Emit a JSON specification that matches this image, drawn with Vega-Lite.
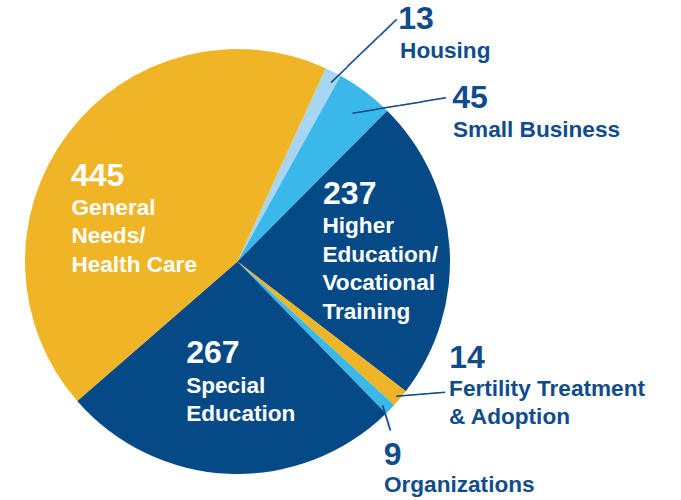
{
  "$schema": "https://vega.github.io/schema/vega-lite/v6.json",
  "width": 425,
  "height": 425,
  "autosize": {"type": "none"},
  "padding": {"left": 25, "top": 49, "right": 231, "bottom": 26},
  "background": "white",
  "config": {"view": {"stroke": null}, "text": {"font": "Liberation Sans", "fontWeight": "bold", "lineBreak": "\n"}},
  "data": {"values": [
    {"rank": 1, "name": "Housing", "value": 13, "label": "Housing"},
    {"rank": 2, "name": "Small Business", "value": 45, "label": "Small Business"},
    {"rank": 3, "name": "Higher Education/Vocational Training", "value": 237, "label": "Higher\nEducation/\nVocational\nTraining"},
    {"rank": 4, "name": "Fertility Treatment & Adoption", "value": 14, "label": "Fertility Treatment\n& Adoption"},
    {"rank": 5, "name": "Organizations", "value": 9, "label": "Organizations"},
    {"rank": 6, "name": "Special Education", "value": 267, "label": "Special\nEducation"},
    {"rank": 7, "name": "General Needs/Health Care", "value": 445, "label": "General\nNeeds/\nHealth Care"}
  ]},
  "encoding": {
    "theta": {"field": "value", "type": "quantitative", "stack": true, "scale": {"range": [0.4276, 6.7108]}},
    "order": {"field": "rank", "type": "quantitative"}
  },
  "layer": [
    {"mark": {"type": "arc"},
     "encoding": {"color": {"field": "name", "type": "nominal", "legend": null,
       "scale": {"domain": ["Housing", "Small Business", "Higher Education/Vocational Training", "Fertility Treatment & Adoption", "Organizations", "Special Education", "General Needs/Health Care"],
                 "range": ["#A8D5F1", "#39B8E9", "#054A87", "#F0B526", "#39B8E9", "#054A87", "#F0B526"]}}}},

    {"mark": {"type": "text", "radius": 240, "align": "center", "baseline": "middle", "fontWeight": "normal", "fontSize": 22.8, "angle": 316, "dx": 10.5, "dy": 14.0, "color": "#0F4C8C"},
     "encoding": {"detail": {"field": "name"}, "text": {"condition": {"test": "datum.name !== 'Housing'", "value": ""}, "value": "————"}}},
    {"mark": {"type": "text", "radius": 240, "align": "center", "baseline": "middle", "fontWeight": "normal", "fontSize": 23.7, "angle": 350.5, "dx": 11.4, "dy": 37.3, "color": "#0F4C8C"},
     "encoding": {"detail": {"field": "name"}, "text": {"condition": {"test": "datum.name !== 'Small Business'", "value": ""}, "value": "————"}}},
    {"mark": {"type": "text", "radius": 240, "align": "center", "baseline": "middle", "fontWeight": "normal", "fontSize": 24.6, "angle": 355.3, "dx": 1.1, "dy": -22.3, "color": "#0F4C8C"},
     "encoding": {"detail": {"field": "name"}, "text": {"condition": {"test": "datum.name !== 'Fertility Treatment & Adoption'", "value": ""}, "value": "——"}}},
    {"mark": {"type": "text", "radius": 240, "align": "center", "baseline": "middle", "fontWeight": "normal", "fontSize": 26.2, "angle": 72.9, "dx": -16.9, "dy": 18.0, "color": "#0F4C8C"},
     "encoding": {"detail": {"field": "name"}, "text": {"condition": {"test": "datum.name !== 'Organizations'", "value": ""}, "value": "—"}}},

    {"mark": {"type": "text", "radius": 240, "align": "left", "baseline": "alphabetic", "fontSize": 32, "color": "#0F4C8C", "dx": 52.6, "dy": -17.9},
     "encoding": {"detail": {"field": "name"}, "text": {"condition": {"test": "datum.name !== 'Housing'", "value": ""}, "field": "value", "type": "quantitative"}}},
    {"mark": {"type": "text", "radius": 240, "align": "left", "baseline": "alphabetic", "fontSize": 22.6, "lineHeight": 28.5, "color": "#0F4C8C", "dx": 54.5, "dy": 11.1},
     "encoding": {"detail": {"field": "name"}, "text": {"condition": {"test": "datum.name !== 'Housing'", "value": ""}, "field": "label", "type": "nominal"}}},

    {"mark": {"type": "text", "radius": 240, "align": "left", "baseline": "alphabetic", "fontSize": 32, "color": "#0F4C8C", "dx": 70.7, "dy": 38.7},
     "encoding": {"detail": {"field": "name"}, "text": {"condition": {"test": "datum.name !== 'Small Business'", "value": ""}, "field": "value", "type": "quantitative"}}},
    {"mark": {"type": "text", "radius": 240, "align": "left", "baseline": "alphabetic", "fontSize": 22.6, "lineHeight": 28.5, "color": "#0F4C8C", "dx": 71.4, "dy": 67.1},
     "encoding": {"detail": {"field": "name"}, "text": {"condition": {"test": "datum.name !== 'Small Business'", "value": ""}, "field": "label", "type": "nominal"}}},

    {"mark": {"type": "text", "radius": 120, "align": "left", "baseline": "alphabetic", "fontSize": 32, "color": "white", "dx": -34.2, "dy": -49.5},
     "encoding": {"detail": {"field": "name"}, "text": {"condition": {"test": "datum.name !== 'Higher Education/Vocational Training'", "value": ""}, "field": "value", "type": "quantitative"}}},
    {"mark": {"type": "text", "radius": 120, "align": "left", "baseline": "alphabetic", "fontSize": 22.6, "lineHeight": 28.5, "color": "white", "dx": -34.8, "dy": -20.2},
     "encoding": {"detail": {"field": "name"}, "text": {"condition": {"test": "datum.name !== 'Higher Education/Vocational Training'", "value": ""}, "field": "label", "type": "nominal"}}},

    {"mark": {"type": "text", "radius": 240, "align": "left", "baseline": "alphabetic", "fontSize": 32, "color": "#0F4C8C", "dx": 28, "dy": -47.7},
     "encoding": {"detail": {"field": "name"}, "text": {"condition": {"test": "datum.name !== 'Fertility Treatment & Adoption'", "value": ""}, "field": "value", "type": "quantitative"}}},
    {"mark": {"type": "text", "radius": 240, "align": "left", "baseline": "alphabetic", "fontSize": 22.6, "lineHeight": 28.5, "color": "#0F4C8C", "dx": 27.9, "dy": -20.3},
     "encoding": {"detail": {"field": "name"}, "text": {"condition": {"test": "datum.name !== 'Fertility Treatment & Adoption'", "value": ""}, "field": "label", "type": "nominal"}}},

    {"mark": {"type": "text", "radius": 240, "align": "left", "baseline": "alphabetic", "fontSize": 32, "color": "#0F4C8C", "dx": -26.3, "dy": 36.6},
     "encoding": {"detail": {"field": "name"}, "text": {"condition": {"test": "datum.name !== 'Organizations'", "value": ""}, "field": "value", "type": "quantitative"}}},
    {"mark": {"type": "text", "radius": 240, "align": "left", "baseline": "alphabetic", "fontSize": 22.6, "lineHeight": 28.5, "color": "#0F4C8C", "dx": -26, "dy": 63.6},
     "encoding": {"detail": {"field": "name"}, "text": {"condition": {"test": "datum.name !== 'Organizations'", "value": ""}, "field": "label", "type": "nominal"}}},

    {"mark": {"type": "text", "radius": 120, "align": "left", "baseline": "alphabetic", "fontSize": 32, "color": "white", "dx": -46.5, "dy": -18.1},
     "encoding": {"detail": {"field": "name"}, "text": {"condition": {"test": "datum.name !== 'Special Education'", "value": ""}, "field": "value", "type": "quantitative"}}},
    {"mark": {"type": "text", "radius": 120, "align": "left", "baseline": "alphabetic", "fontSize": 22.6, "lineHeight": 28.5, "color": "white", "dx": -46.5, "dy": 11.3},
     "encoding": {"detail": {"field": "name"}, "text": {"condition": {"test": "datum.name !== 'Special Education'", "value": ""}, "field": "label", "type": "nominal"}}},

    {"mark": {"type": "text", "radius": 150, "align": "left", "baseline": "alphabetic", "fontSize": 32, "color": "white", "dx": -46.3, "dy": 13.8},
     "encoding": {"detail": {"field": "name"}, "text": {"condition": {"test": "datum.name !== 'General Needs/Health Care'", "value": ""}, "field": "value", "type": "quantitative"}}},
    {"mark": {"type": "text", "radius": 150, "align": "left", "baseline": "alphabetic", "fontSize": 22.6, "lineHeight": 28.5, "color": "white", "dx": -45.9, "dy": 43.1},
     "encoding": {"detail": {"field": "name"}, "text": {"condition": {"test": "datum.name !== 'General Needs/Health Care'", "value": ""}, "field": "label", "type": "nominal"}}}
  ]
}
